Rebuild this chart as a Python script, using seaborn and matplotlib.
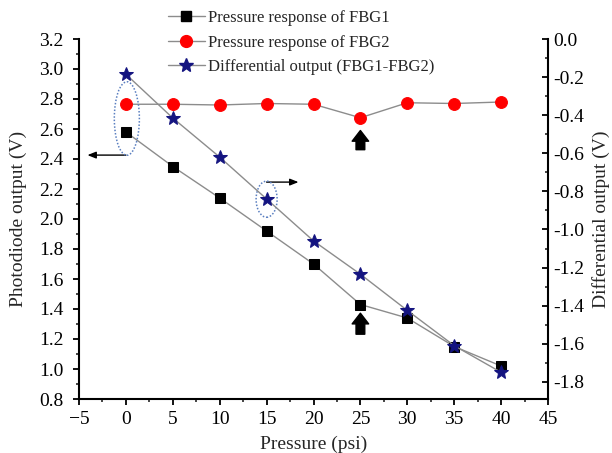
import matplotlib
matplotlib.use("Agg")
import matplotlib.pyplot as plt
import seaborn as sns
import numpy as np
from matplotlib.patches import Ellipse
from matplotlib.lines import Line2D
from matplotlib.ticker import MultipleLocator

pressure = [0, 5, 10, 15, 20, 25, 30, 35, 40]
fbg1 = [2.58, 2.35, 2.14, 1.92, 1.70, 1.43, 1.34, 1.15, 1.02]
fbg2 = [2.765, 2.765, 2.76, 2.77, 2.765, 2.675, 2.775, 2.77, 2.78]
diff = [-0.185, -0.415, -0.62, -0.84, -1.06, -1.235, -1.425, -1.61, -1.75]

labels = ["Pressure response of FBG1", "Pressure response of FBG2",
          "Differential output (FBG1-FBG2)"]

sns.set_style("ticks")
plt.rcParams['font.family'] = ['Liberation Serif', 'DejaVu Serif']
plt.rcParams['mathtext.fontset'] = 'stix'

fig = plt.figure(figsize=(6.12, 4.53), dpi=100)
ax = fig.add_axes([79/612, 1-399/453, (548-79)/612, (399-39)/453])
ax2 = ax.twinx()

line_col = '#8c8c8c'
sq_ms, ci_ms, st_ms = 7.5, 8.5, 10
sns.lineplot(x=pressure, y=fbg1, ax=ax, color=line_col, lw=1.0, marker='s', ms=sq_ms,
             markerfacecolor='black', markeredgecolor='black')
sns.lineplot(x=pressure, y=fbg2, ax=ax, color=line_col, lw=1.0, marker='o', ms=ci_ms,
             markerfacecolor='#ff0000', markeredgecolor='#ff0000')
sns.lineplot(x=pressure, y=diff, ax=ax2, color=line_col, lw=1.0, marker='*', ms=st_ms,
             markerfacecolor='#141480', markeredgecolor='#141480')

ax.set_xlim(-5, 45)
ax.set_ylim(0.8, 3.2)
ax2.set_ylim(-1.89, 0.0)
ax.xaxis.set_major_locator(MultipleLocator(5))
ax.xaxis.set_minor_locator(MultipleLocator(2.5))
ax.yaxis.set_major_locator(MultipleLocator(0.2))
ax.yaxis.set_minor_locator(MultipleLocator(0.1))
ax2.yaxis.set_major_locator(MultipleLocator(0.2))
ax2.yaxis.set_minor_locator(MultipleLocator(0.1))
ax.yaxis.set_major_formatter(matplotlib.ticker.FormatStrFormatter('%.1f'))
ax2.yaxis.set_major_formatter(matplotlib.ticker.FormatStrFormatter('%.1f'))

for a in (ax, ax2):
    a.spines['top'].set_visible(False)
    for s in a.spines.values():
        s.set_linewidth(1.5)
        s.set_color('black')
ax.spines['right'].set_visible(False)
ax2.spines['left'].set_visible(False)
ax2.spines['bottom'].set_visible(False)

ax.tick_params(axis='x', which='major', pad=5)
ax.tick_params(axis='y', which='major', pad=7)
ax.tick_params(axis='both', which='major', direction='out', length=4, width=1.3,
               labelsize=14, colors='black')
ax.tick_params(axis='both', which='minor', direction='out', length=2.5, width=1.2)
ax2.tick_params(axis='y', which='major', direction='in', length=4, width=1.3,
                labelsize=14, colors='black', pad=4)
ax2.tick_params(axis='y', which='minor', direction='in', length=2.5, width=1.2)

ax.set_xlabel("Pressure (psi)", fontsize=14, labelpad=5)
ax.set_ylabel("Photodiode output (V)", fontsize=14, labelpad=9)
ax2.set_ylabel("Differential output (V)", fontsize=14, rotation=90, labelpad=5)

# annotations: dotted ellipses
ell_col = '#5a7fc0'
ax.add_patch(Ellipse((0.1, 2.67), 2.67, 0.49, fill=False, ls=(0, (1, 1.2)),
                     lw=1.1, edgecolor=ell_col, zorder=5))
ax.add_patch(Ellipse((15.0, 2.132), 2.24, 0.241, fill=False, ls=(0, (1, 1.2)),
                     lw=1.1, edgecolor=ell_col, zorder=5))

# thin arrows
ax.annotate('', xy=(-4.1, 2.426), xytext=(0.0, 2.426),
            arrowprops=dict(arrowstyle='-|>,head_length=0.5,head_width=0.2',
                            color='black', lw=1.0, shrinkA=0, shrinkB=0))
ax.annotate('', xy=(18.4, 2.246), xytext=(15.0, 2.246),
            arrowprops=dict(arrowstyle='-|>,head_length=0.5,head_width=0.2',
                            color='black', lw=1.0, shrinkA=0, shrinkB=0))

# block arrows
for y0, y1 in [(2.462, 2.59), (1.232, 1.372)]:
    ax.annotate('', xy=(25, y1), xytext=(25, y0),
                arrowprops=dict(arrowstyle='simple,head_width=0.85,head_length=0.55,tail_width=0.45',
                                color='black', mutation_scale=14, shrinkA=0, shrinkB=0))

handles = [
    Line2D([], [], color=line_col, lw=1.0, marker='s', ms=sq_ms, mfc='black', mec='black'),
    Line2D([], [], color=line_col, lw=1.0, marker='o', ms=ci_ms, mfc='#ff0000', mec='#ff0000'),
    Line2D([], [], color=line_col, lw=1.0, marker='*', ms=st_ms, mfc='#141480', mec='#141480'),
]
fig.legend(handles, labels, loc='upper left', bbox_to_anchor=(168/612, 1-10/453),
           frameon=False, fontsize=12, handlelength=2.2, handletextpad=0.2,
           labelspacing=0.52, borderpad=0, borderaxespad=0)

fig.savefig("out.png", dpi=100)
